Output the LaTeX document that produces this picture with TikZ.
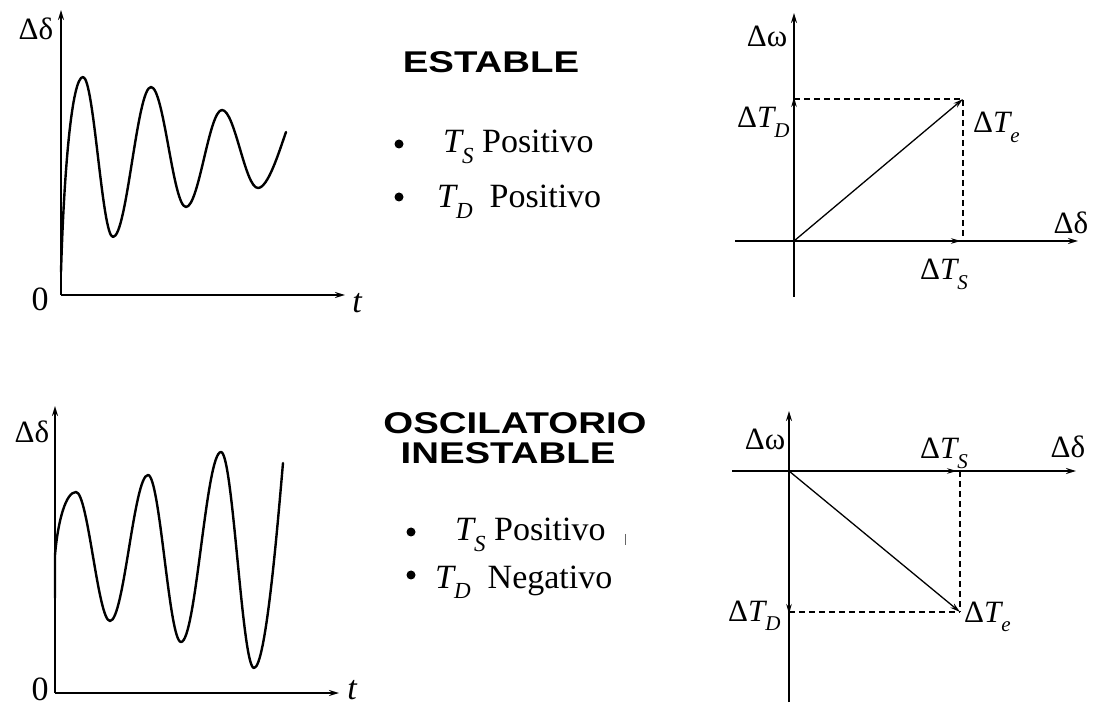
\documentclass[tikz,border=0pt]{standalone}
\usepackage{fontspec}
\setmainfont{Liberation Serif}
\newfontfamily\hvfont{Liberation Sans}
\usetikzlibrary{arrows.meta}
\newcommand\sbs[2][21]{\raisebox{-0.3em}{\fontsize{#1}{#1}\selectfont\itshape #2}}
\newcommand\lsz{\fontsize{31}{35}\selectfont}
\begin{document}
\begin{tikzpicture}[x=1pt,y=-1pt,
  axis/.style={line width=1.7pt,-{Stealth[length=10pt,width=6pt]}},
  wave/.style={line width=2.4pt,line join=round,line cap=round},
  phasor/.style={line width=1.3pt,-{Stealth[length=10pt,width=5.5pt]}},
  dashline/.style={line width=1.3pt,dash pattern=on 6pt off 4pt},
  lbl/.style={font=\lsz,inner sep=0pt},
  big/.style={font=\fontsize{34}{38}\selectfont,inner sep=0pt},
  ttl/.style={font=\hvfont\bfseries\fontsize{30}{34}\selectfont,inner sep=0pt},
  item/.style={font=\fontsize{34}{38}\selectfont,inner sep=0pt,anchor=base west},
  dot/.style={circle,fill=black,inner sep=0pt,minimum size=9pt}]
\useasboundingbox (0,0) rectangle (1096,708);
\fill[white] (0,0) rectangle (1096,708);

% ---------- top-left time plot ----------
\coordinate (o1) at (61,295);
\coordinate (y1) at (61,10);
\coordinate (x1) at (345,295);
\draw[axis] (o1) -- (y1);
\draw[axis] (o1) -- (x1);
\node[lbl] (d1) at (36,29) {Δδ};
\node[big] (z1) at (40,299) {0};
\node[big,font=\fontsize{34}{38}\selectfont\itshape] (t1) at (357,303) {t};
\draw[wave] (61,272) .. controls (64,170) and (72,77) .. (83,77)
  .. controls (94,77) and (102,237) .. (113,237)
  .. controls (127,237) and (137,87) .. (151,87)
  .. controls (164,87) and (173,207) .. (186,207)
  .. controls (199,207) and (209,110) .. (222,110)
  .. controls (235,110) and (245,188) .. (258,188)
  .. controls (268,188) and (279,152) .. (286,132);

% ---------- bottom-left time plot ----------
\coordinate (o2) at (55,693);
\coordinate (y2) at (55,406);
\coordinate (x2) at (339,693);
\draw[axis] (o2) -- (y2);
\draw[axis] (o2) -- (x2);
\node[lbl] (d2) at (32,432) {Δδ};
\node[big] (z2) at (40,689) {0};
\node[big,font=\fontsize{34}{38}\selectfont\itshape] (t2) at (352,690) {t};
\draw[wave] (55,598) -- (55,555) .. controls (58,520) and (66,492) .. (76,492)
  .. controls (88,492) and (98,621) .. (110,621)
  .. controls (124,621) and (134,475) .. (148,475)
  .. controls (160,475) and (169,642) .. (181,642)
  .. controls (196,642) and (206,452) .. (221,452)
  .. controls (233,452) and (242,668) .. (254,668)
  .. controls (266,668) and (278,520) .. (283,463);

% ---------- middle texts ----------
\node[ttl] (est) at (491,62) {\scalebox{1.28}[1]{ESTABLE}};
\node[dot] (b1) at (399,144) {};
\node[item] (i1) at (443,153) {\itshape T\sbs[23]{S}\upshape\ Positivo};
\node[dot] (b2) at (399,197) {};
\node[item] (i2) at (437,208) {\itshape T\sbs[23]{D}\upshape\ \ Positivo};

\node[ttl] (osc) at (515,423) {\scalebox{1.28}[1]{OSCILATORIO}};
\node[ttl] (ine) at (508,453) {\scalebox{1.28}[1]{INESTABLE}};
\node[dot] (b3) at (411,532) {};
\node[item] (i3) at (455,541) {\itshape T\sbs[23]{S}\upshape\ Positivo};
\coordinate (m1) at (625,534);
\coordinate (m2) at (625,545);
\draw[line width=1pt,black!60] (m1) -- (m2);
\node[dot] (b4) at (411,575) {};
\node[item] (i4) at (435,588) {\itshape T\sbs[23]{D}\upshape\ \ Negativo};

% ---------- top-right phasor diagram ----------
\coordinate (O1) at (794,241);
\coordinate (Ob1) at (794,297);
\coordinate (Ot1) at (794,13);
\coordinate (Ol1) at (735,241);
\coordinate (Or1) at (1078,241);
\coordinate (E1) at (963,99);
\coordinate (D1) at (794,99);
\coordinate (S1) at (963,241);
\draw[axis] (Ob1) -- (Ot1);
\draw[axis] (Ol1) -- (Or1);
\draw[dashline] (D1) -- (E1) -- (S1);
\draw[phasor] (O1) -- (E1);
\draw[phasor] (O1) -- ([yshift=2pt]D1);
\draw[phasor] (O1) -- ([xshift=-2pt]S1);
\node[lbl] (w1) at (767,36) {Δω};
\node[lbl] (dd1) at (1071,223) {Δδ};
\node[lbl,anchor=base west] (td1) at (737,128) {Δ\itshape T\sbs{D}};
\node[lbl,anchor=base west] (te1) at (973,133) {Δ\itshape T\sbs{e}};
\node[lbl,anchor=base west] (ts1) at (920,280) {Δ\itshape T\sbs{S}};

% ---------- bottom-right phasor diagram ----------
\coordinate (O2) at (789,471);
\coordinate (Ob2) at (789,702);
\coordinate (Ot2) at (789,411);
\coordinate (Ol2) at (732,471);
\coordinate (Or2) at (1076,471);
\coordinate (E2) at (960,612);
\coordinate (D2) at (789,612);
\coordinate (S2) at (960,471);
\draw[axis] (Ob2) -- (Ot2);
\draw[axis] (Ol2) -- (Or2);
\draw[dashline] (D2) -- (E2);
\draw[dashline] (S2) -- (E2);
\draw[phasor] (O2) -- (E2);
\draw[phasor] (O2) -- ([yshift=-2pt]D2);
\draw[phasor] (O2) -- ([xshift=-3pt]S2);
\node[lbl] (w2) at (765,439) {Δω};
\node[lbl] (dd2) at (1068,447) {Δδ};
\node[lbl,anchor=base west] (ts2) at (920,459) {Δ\itshape T\sbs{S}};
\node[lbl,anchor=base west] (td2) at (728,621) {Δ\itshape T\sbs{D}};
\node[lbl,anchor=base west] (te2) at (964,622) {Δ\itshape T\sbs{e}};
\end{tikzpicture}
\end{document}
